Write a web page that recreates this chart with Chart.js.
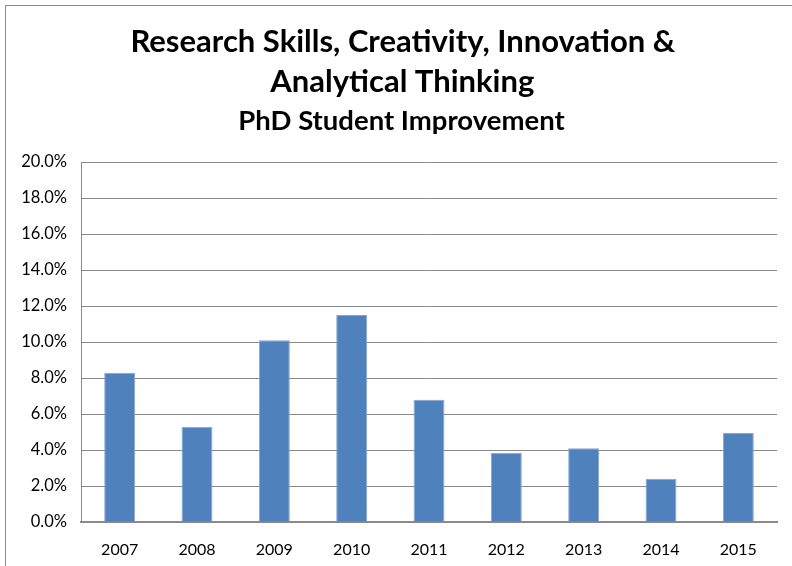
<!DOCTYPE html>
<html>
<head>
<meta charset="utf-8">
<script src="https://cdn.jsdelivr.net/npm/chart.js@4.4.0/dist/chart.umd.min.js"></script>
<style>
    body { margin: 0; background: #ffffff; }
    #frame {
        position: absolute;
        left: 5px;
        top: 5px;
        width: 787px;
        height: 561px;
        border-top: 1px solid #8a8a8a;
        border-left: 1px solid #8a8a8a;
    }
</style>
</head>
<body>
<div id="frame">
    <canvas id="improvementChart" width="786" height="560"></canvas>
</div>
<script>
const years = ['2007', '2008', '2009', '2010', '2011', '2012', '2013', '2014', '2015'];
const improvement = [8.3, 5.3, 10.1, 11.5, 6.8, 3.85, 4.1, 2.4, 4.95]; // percent
const yTicks = [0, 2, 4, 6, 8, 10, 12, 14, 16, 18, 20];

const fontFamily = 'Lato, "Noto Sans", sans-serif';
const pad = '\u00A0\u00A0\u00A0'; // nudges the centred titles a little to the right

function initializeImprovementChart() {
    const canvas = document.getElementById('improvementChart');
    if (!canvas) {
        console.error('Canvas element not found for chart');
        return;
    }
    const ctx = canvas.getContext('2d');

    const data = {
        labels: years,
        datasets: [{
            label: 'PhD Student Improvement',
            data: improvement,
            backgroundColor: '#4f81bd',
            borderColor: '#86a6d2',
            borderWidth: 1,
            barPercentage: 0.4,
            categoryPercentage: 1.0
        }]
    };

    const options = {
        responsive: false,
        animation: false,
        layout: {
            padding: { top: 0, right: 15, bottom: 0, left: 0 }
        },
        scales: {
            x: {
                grid: { display: false },
                border: { color: '#8a8a8a', width: 2 },
                ticks: {
                    color: '#000000',
                    font: { family: fontFamily, size: 16 },
                    padding: 10
                },
                afterFit: function (scale) { scale.height = 44; }
            },
            y: {
                min: 0,
                max: 20,
                afterBuildTicks: function (scale) {
                    scale.ticks = yTicks.map(v => ({ value: v }));
                },
                grid: { color: '#8a8a8a', lineWidth: 1, drawTicks: false },
                border: { color: '#8a8a8a', width: 1 },
                ticks: {
                    color: '#000000',
                    font: { family: fontFamily, size: 16.5 },
                    padding: 14,
                    callback: v => v.toFixed(1) + '%'
                },
                afterFit: function (scale) { scale.width = 75; }
            }
        },
        plugins: {
            legend: { display: false },
            tooltip: { enabled: false },
            title: {
                display: true,
                text: [pad + 'Research Skills, Creativity, Innovation &', pad + 'Analytical Thinking'],
                color: '#000000',
                font: { family: fontFamily, size: 31, weight: 'bold', lineHeight: 1.28 },
                padding: { top: 16, bottom: 2 }
            },
            subtitle: {
                display: true,
                text: pad + 'PhD Student Improvement',
                color: '#000000',
                font: { family: fontFamily, size: 27.5, weight: 'bold', lineHeight: 1.3 },
                padding: { top: 0, bottom: 23 }
            }
        }
    };

    new Chart(ctx, {
        type: 'bar',
        data: data,
        options: options
    });
}

initializeImprovementChart();
</script>
</body>
</html>
